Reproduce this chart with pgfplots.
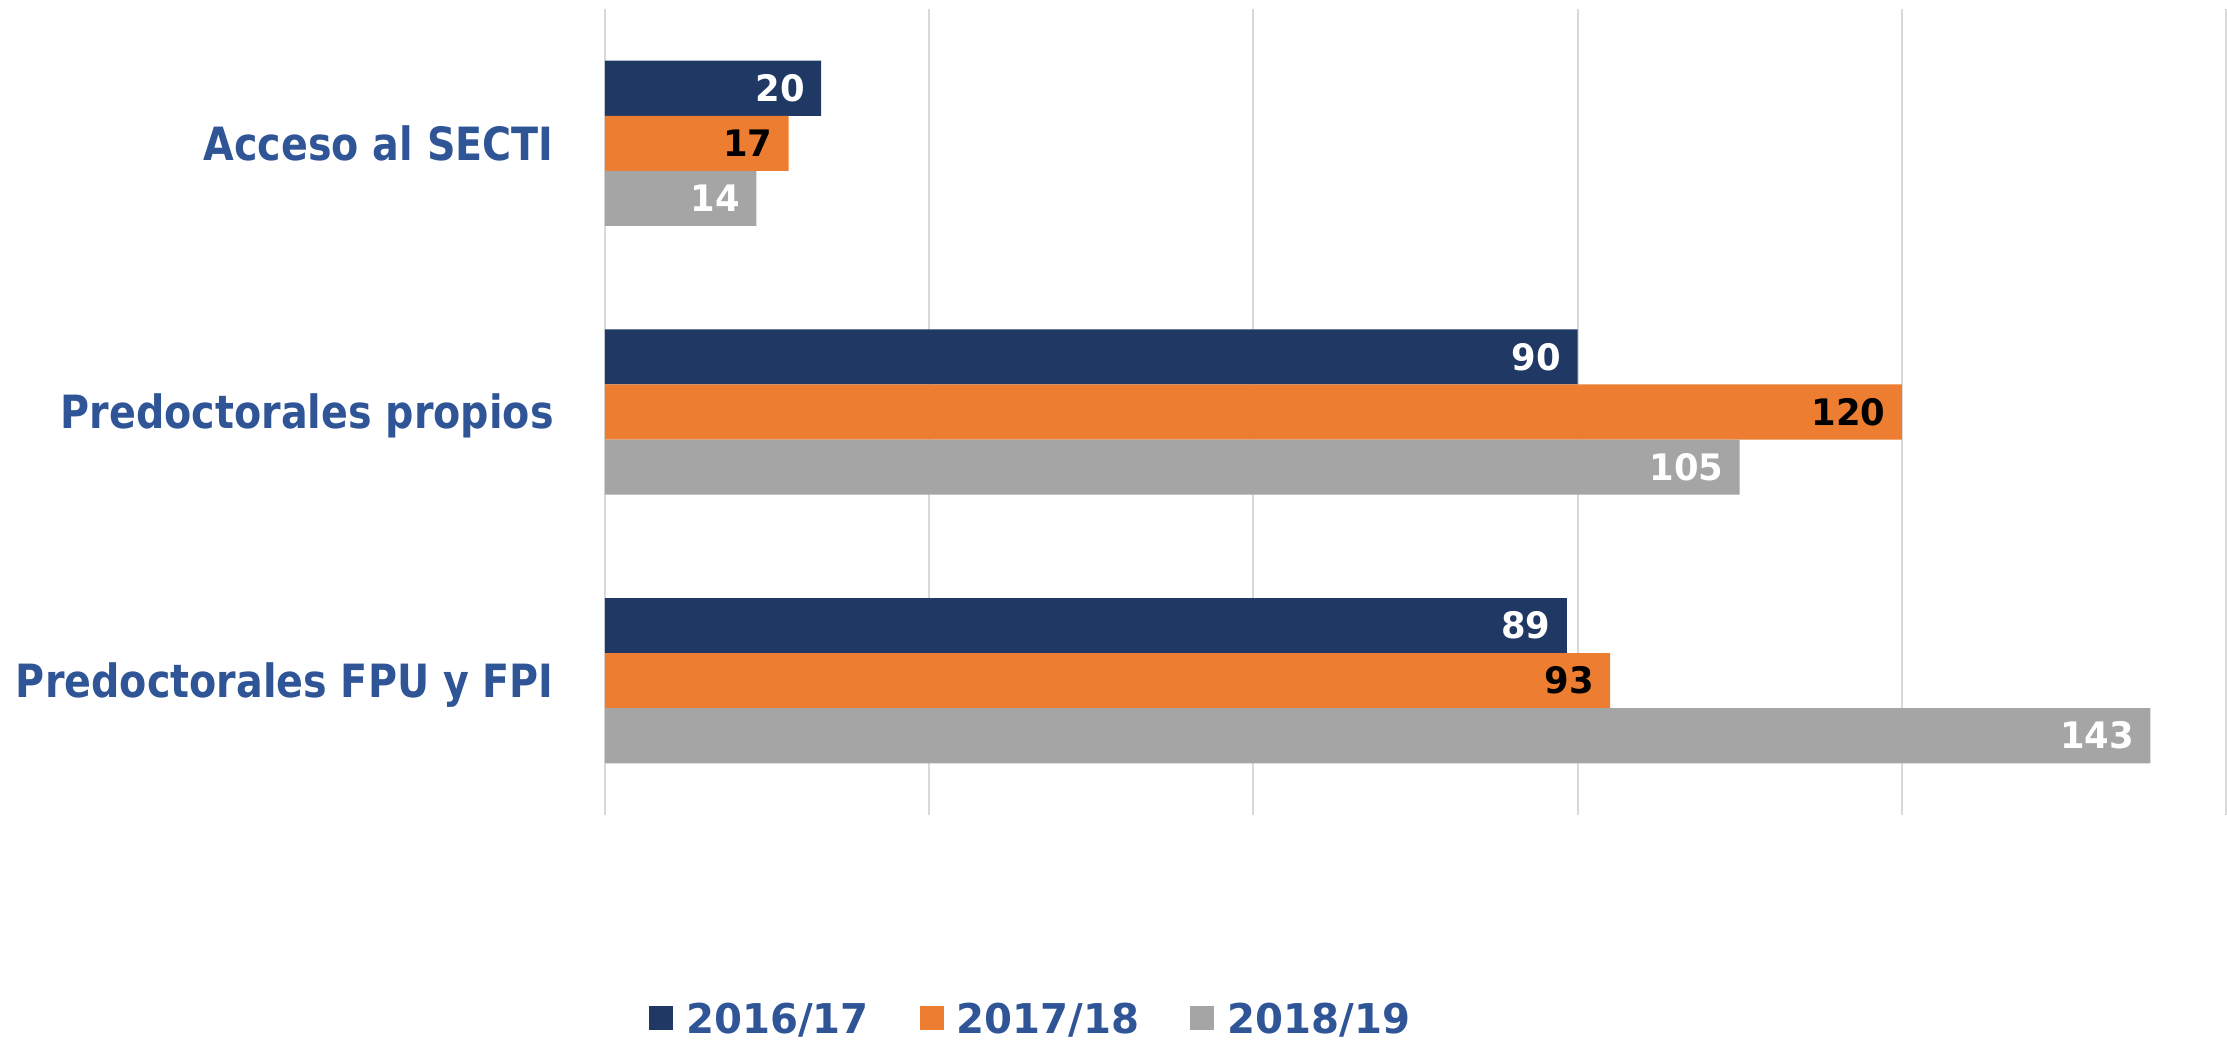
\documentclass[border=0pt]{standalone}
\usepackage{pgfplots}
\pgfplotsset{compat=1.18}
\usepackage{fontspec}
\setmainfont{DejaVu Sans}
\newfontfamily\labelfont{DejaVu Sans}[FakeStretch=0.865]
\newfontfamily\numfont{DejaVu Sans}[FakeStretch=0.97]
\newfontfamily\legfont{DejaVu Sans}[FakeStretch=0.98]
\definecolor{cnavy}{HTML}{203864}
\definecolor{corange}{HTML}{ED7D31}
\definecolor{cgray}{HTML}{A5A5A5}
\definecolor{ctext}{HTML}{2F5597}
\definecolor{cgrid}{HTML}{D9D9D9}
\begin{document}
\begin{tikzpicture}
\path[use as bounding box] (-302.5bp,-113bp) rectangle (811bp,407.5bp);
\begin{axis}[
  scale only axis, width=810.5bp, height=403bp,
  xbar, bar width=0.205,
  xmin=0, xmax=150, ymin=-0.5, ymax=2.5,
  xtick={0,30,...,150}, xticklabels={},
  ytick={0,1,2},
  yticklabels={Predoctorales FPU y FPI, Predoctorales propios, Acceso al SECTI},
  xmajorgrids, grid style={cgrid, line width=1bp},
  axis line style={draw=none}, major tick length=0pt,
  yticklabel style={font=\labelfont\bfseries\fontsize{23}{23}\selectfont, text=ctext, inner sep=0pt, xshift=-25.5bp, text height=16.8pt, text depth=0pt},
  /pgf/number format/assume math mode=true,
  nodes near coords,
  every node near coord/.append style={anchor=east, inner sep=0pt, xshift=-8bp, font=\numfont\bfseries\fontsize{18.3}{18.3}\selectfont, text height=13.3pt, text depth=0pt},
  legend columns=3,
  legend style={at={(0.262,-0.252)}, anchor=center, draw=none,
    font=\legfont\bfseries\fontsize{20.6}{20.6}\selectfont, text=ctext,
    nodes={inner sep=0pt, text height=15pt, text depth=0pt},
    /tikz/every odd column/.append style={column sep=6.5bp},
    /tikz/every even column/.append style={column sep=25.5bp}},
  legend image code/.code={\fill[#1] (0bp,-6bp) rectangle (12bp,6bp);},
]
\addplot[fill=cnavy, draw=none, /pgfplots/bar shift=0.205, /pgfplots/every node near coord/.append style={text=white}]
  coordinates {(89,0) (90,1) (20,2)};
\addplot[fill=corange, draw=none, /pgfplots/bar shift=0, /pgfplots/every node near coord/.append style={text=black}]
  coordinates {(93,0) (120,1) (17,2)};
\addplot[fill=cgray, draw=none, /pgfplots/bar shift=-0.205, /pgfplots/every node near coord/.append style={text=white}]
  coordinates {(143,0) (105,1) (14,2)};
\legend{2016/17, 2017/18, 2018/19}
\end{axis}
\end{tikzpicture}
\end{document}
